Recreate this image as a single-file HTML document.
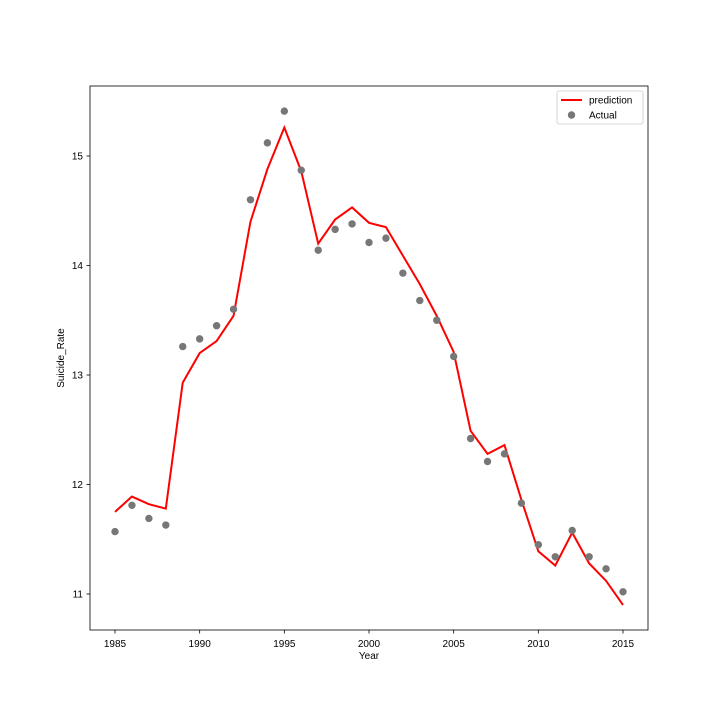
<!DOCTYPE html>
<html><head><meta charset="utf-8"><style>
body{margin:0;background:#fff;}
svg text{font-family:"Liberation Sans","DejaVu Sans",sans-serif;font-size:10px;fill:#000;}
</style></head><body>
<svg id="chart" width="720" height="720" xmlns="http://www.w3.org/2000/svg"></svg>
<script>
const years=[1985,1986,1987,1988,1989,1990,1991,1992,1993,1994,1995,1996,1997,1998,1999,2000,2001,2002,2003,2004,2005,2006,2007,2008,2009,2010,2011,2012,2013,2014,2015];
const actual=[11.57,11.81,11.69,11.63,13.26,13.33,13.45,13.60,14.60,15.12,15.41,14.87,14.14,14.33,14.38,14.21,14.25,13.93,13.68,13.50,13.17,12.42,12.21,12.28,11.83,11.45,11.34,11.58,11.34,11.23,11.02];
const prediction=[11.75,11.89,11.82,11.78,12.93,13.20,13.31,13.54,14.40,14.88,15.26,14.86,14.20,14.42,14.53,14.39,14.35,14.09,13.83,13.54,13.21,12.49,12.28,12.36,11.86,11.39,11.26,11.56,11.28,11.12,10.90];
const xTicks=[1985,1990,1995,2000,2005,2010,2015];
const yTicks=[11,12,13,14,15];
const NS="http://www.w3.org/2000/svg";
const svg=document.getElementById('chart');
const L=90,R=648,T=86,B=630;
const x=v=>115+(v-1985)*(623-115)/30;
const y=v=>594-(v-11)*(594-156)/4;
function mk(tag,attrs,parent){const e=document.createElementNS(NS,tag);for(const k in attrs)e.setAttribute(k,attrs[k]);(parent||svg).appendChild(e);return e;}
const frame=mk('rect',{x:L,y:T,width:R-L,height:B-T,fill:'none',stroke:'#000','stroke-width':0.8});


xTicks.forEach(t=>{
  const ln=mk('line',{x1:x(t),x2:x(t),y1:B,y2:B+3.5,stroke:'#000','stroke-width':0.8});
  
  
  const tx=mk('text',{x:x(t),y:B+17,'text-anchor':'middle'});tx.textContent=t;
  
  
});
yTicks.forEach(t=>{
  const ln=mk('line',{x1:L-3.5,x2:L,y1:y(t),y2:y(t),stroke:'#000','stroke-width':0.8});
  
  
  const tx=mk('text',{x:L-7,y:y(t)+3.5,'text-anchor':'end'});tx.textContent=t;
  
  
});
const xl=mk('text',{x:(L+R)/2,y:659,'text-anchor':'middle'});xl.textContent='Year';


const yl=mk('text',{x:0,y:0,'text-anchor':'middle',transform:`translate(64,${(T+B)/2}) rotate(-90)`});yl.textContent='Suicide_Rate';


const line=mk('polyline',{points:years.map((yr,i)=>x(yr)+','+y(prediction[i])).join(' '),fill:'none',stroke:'#ff0000','stroke-width':2});


years.forEach((yr,i)=>{
  const c=mk('circle',{cx:x(yr),cy:y(actual[i]),r:3.7,fill:'#777777'});
  
  
});
const lg=mk('g',{});


mk('rect',{x:557,y:91,width:86,height:33,rx:2,fill:'#fff',stroke:'#ccc','stroke-width':0.8},lg);
mk('line',{x1:561,x2:582,y1:100,y2:100,stroke:'#ff0000','stroke-width':2},lg);
const t1=mk('text',{x:589,y:103.5},lg);t1.textContent='prediction';


mk('circle',{cx:571.5,cy:115,r:3.7,fill:'#777777'},lg);
const t2=mk('text',{x:589,y:118.5},lg);t2.textContent='Actual';


</script>
</body></html>
